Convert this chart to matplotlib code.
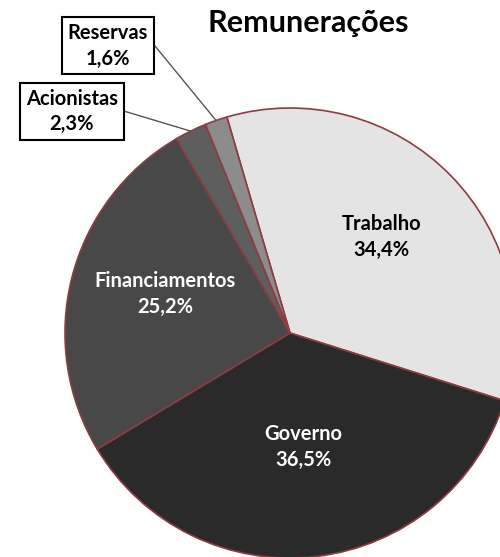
import numpy as np
import matplotlib.pyplot as plt

plt.rcParams['font.family'] = ['Lato', 'DejaVu Sans']

# dados (ordem no sentido horario a partir do topo)
labels = ["Trabalho", "Governo", "Financiamentos", "Acionistas", "Reservas"]
values = [34.4, 36.5, 25.2, 2.3, 1.6]
colors = ["#e4e4e4", "#2a2a2a", "#484848", "#5e5e5e", "#8c8c8c"]
text_colors = ["black", "white", "white", None, None]

fig = plt.figure(figsize=(5, 5.57), dpi=100)
ax = fig.add_axes([65 / 500, -1 / 557, 450 / 500, 450 / 557])

wedges, _ = ax.pie(values, colors=colors, startangle=106.3, counterclock=False,
                   radius=1, wedgeprops=dict(edgecolor="#8e3b42", linewidth=1.2))
ax.set_xlim(-1, 1)
ax.set_ylim(-1, 1)
ax.set_aspect("equal")
ax.axis("off")

def fmt(v):
    return f"{v:.1f}%".replace(".", ",")

# rotulos dentro das fatias grandes (distancia radial / ajuste angular)
lab_r = {"Trabalho": 0.59, "Governo": 0.51, "Financiamentos": 0.58}
lab_da = {"Trabalho": 2, "Governo": 0, "Financiamentos": -3}
for w, lab, v, tc in zip(wedges, labels, values, text_colors):
    if tc is None:
        continue
    mid = np.deg2rad((w.theta1 + w.theta2) / 2 + lab_da[lab])
    r = lab_r[lab]
    ax.text(r * np.cos(mid), r * np.sin(mid), f"{lab}\n{fmt(v)}", color=tc,
            ha="center", va="center", fontsize=14.5, fontweight="bold",
            linespacing=1.4)

# caixas para as fatias pequenas
box_pos = {"Acionistas": (-0.969, 0.985), "Reservas": (-0.81, 1.276)}
for w, lab, v in zip(wedges, labels, values):
    if lab not in box_pos:
        continue
    mid = np.deg2rad((w.theta1 + w.theta2) / 2)
    ax.annotate(f"{lab}\n{fmt(v)}", xy=(np.cos(mid), np.sin(mid)),
                xytext=box_pos[lab], ha="center", va="center",
                fontsize=14.5, fontweight="bold", linespacing=1.35,
                bbox=dict(boxstyle="square,pad=0.28", fc="white", ec="black", lw=1.5),
                arrowprops=dict(arrowstyle="-", color="#555555", lw=1,
                                relpos=(1, 0.5), shrinkA=0, shrinkB=0,
                                connectionstyle="arc,angleA=0,armA=7,angleB=0,armB=0,rad=0"),
                annotation_clip=False)

fig.text(308 / 500, 1 - 23 / 557, "Remunerações", ha="center", va="center",
         fontsize=22, fontweight="bold")

plt.savefig("out.png", dpi=100)
